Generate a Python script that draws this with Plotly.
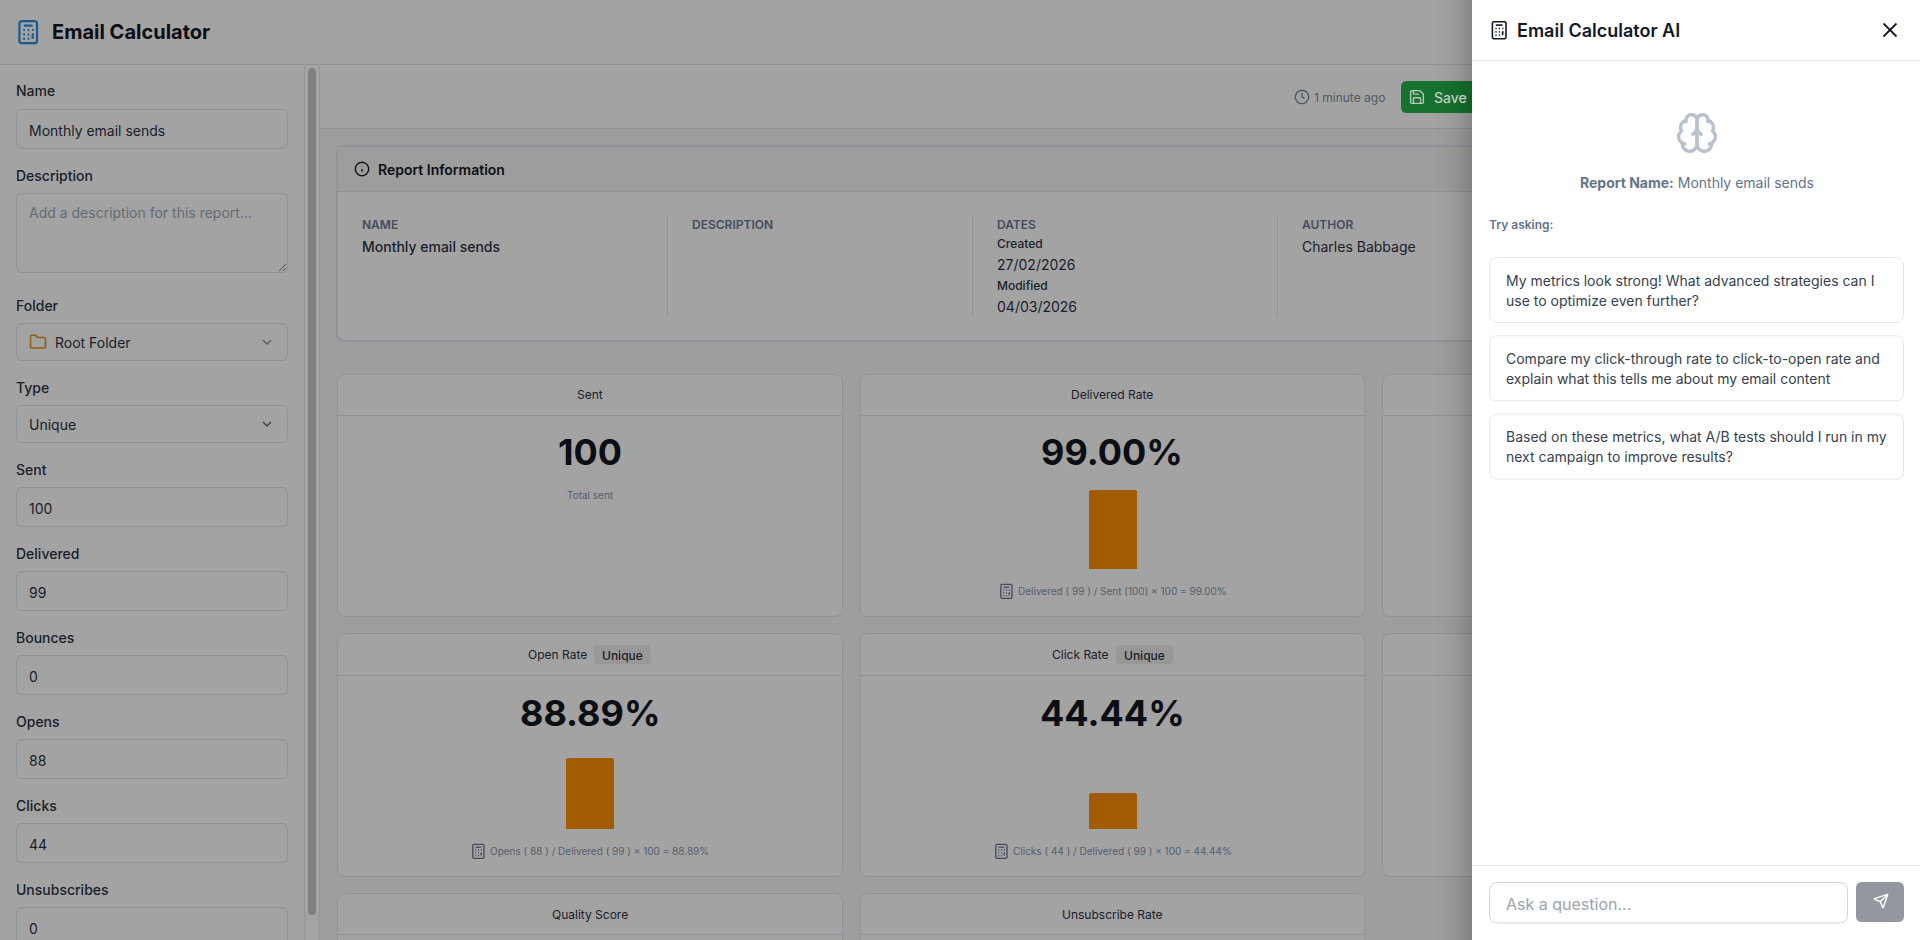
import math
import re
import plotly.graph_objects as go

# values
metric_names = ['Delivered Rate', 'Open Rate', 'Click Rate']
metric_values = [99.00, 88.89, 44.44]
metric_formulas = ['Delivered ( 99 ) / Sent (100) × 100 = 99.00%',
                   'Opens ( 88 ) / Delivered ( 99 ) × 100 = 88.89%',
                   'Clicks ( 44 ) / Delivered ( 99 ) × 100 = 44.44%']
sent_value = '100'

field_names = ['Sent', 'Delivered', 'Bounces', 'Opens', 'Clicks', 'Unsubscribes']
field_values = ['100', '99', '0', '88', '44', '0']

suggestions = [['My metrics look strong! What advanced strategies can I', 'use to optimize even further?'],
               ['Compare my click-through rate to click-to-open rate and', 'explain what this tells me about my email content'],
               ['Based on these metrics, what A/B tests should I run in my', 'next campaign to improve results?']]

FONT = 'Inter'
DARK = '#0b0e13'
LABEL = '#1a2029'
MUTED = '#565e6c'
LINE = '#8e9299'
BG = '#a3a3a3'
MAIN_BG = '#9e9e9e'

CALC = ['M6 2h12a2 2 0 0 1 2 2v16a2 2 0 0 1-2 2H6a2 2 0 0 1-2-2V4a2 2 0 0 1 2-2Z', 'M8 6h8',
        'M7.5 10h1.5', 'M11.5 10h1.5', 'M15.5 10h1.5', 'M7.5 14h1.5', 'M11.5 14h1.5', 'M15.5 14h1.5',
        'M7.5 18h1.5', 'M11.5 18h1.5', 'M16 14v4']
INFO = ['M22 12a10 10 0 1 1-20 0a10 10 0 1 1 20 0Z', 'M12 16v-4', 'M11.5 8h1']
CLOCK = ['M22 12a10 10 0 1 1-20 0a10 10 0 1 1 20 0Z', 'M12 6v6l4 2']
SAVE = ['M15.2 3a2 2 0 0 1 1.4.6l3.8 3.8a2 2 0 0 1 .6 1.4V19a2 2 0 0 1-2 2H5a2 2 0 0 1-2-2V5a2 2 0 0 1 2-2z',
        'M17 21v-7a1 1 0 0 0-1-1H8a1 1 0 0 0-1 1v7', 'M7 3v4a1 1 0 0 0 1 1h7']
FOLDER = ['M20 20a2 2 0 0 0 2-2V8a2 2 0 0 0-2-2h-7.9a2 2 0 0 1-1.69-.9L9.6 3.9A2 2 0 0 0 7.93 3H4a2 2 0 0 0-2 2v13a2 2 0 0 0 2 2Z']
CHEVRON = ['M6 9l6 6l6-6']
CLOSE = ['M18 6L6 18', 'M6 6l12 12']
SEND = ['M14.536 21.686a.5.5 0 0 0 .937-.024l6.5-19a.496.496 0 0 0-.635-.635l-19 6.5a.5.5 0 0 0-.024.937l7.93 3.18a2 2 0 0 1 1.112 1.11z',
        'M21.854 2.147l-10.94 10.939']
BRAIN = ['M12 5a3 3 0 1 0-5.997.125 4 4 0 0 0-2.526 5.77 4 4 0 0 0 .556 6.588A4 4 0 1 0 12 18Z',
         'M12 5a3 3 0 1 1 5.997.125 4 4 0 0 1 2.526 5.77 4 4 0 0 1-.556 6.588A4 4 0 1 1 12 18Z',
         'M15 13a4.5 4.5 0 0 1-3-4 4.5 4.5 0 0 1-3 4', 'M17.599 6.5a3 3 0 0 0 .399-1.375',
         'M6.003 5.125A3 3 0 0 0 6.401 6.5', 'M3.477 10.896a4 4 0 0 1 .585-.396',
         'M19.938 10.5a4 4 0 0 1 .585.396', 'M6 18a4 4 0 0 1-1.967-.516', 'M19.967 17.484A4 4 0 0 1 18 18']

shapes = []
notes = []


def arc_points(x0, y0, rx, ry, large, sweep, x1, y1):
    # plotly paths have no A command, so arcs become short lines
    dx, dy = (x0 - x1) / 2, (y0 - y1) / 2
    lam = dx * dx / (rx * rx) + dy * dy / (ry * ry)
    if lam > 1:
        rx, ry = rx * math.sqrt(lam), ry * math.sqrt(lam)
    den = rx * rx * dy * dy + ry * ry * dx * dx
    co = math.sqrt(max(0, (rx * rx * ry * ry - den) / den))
    if large == sweep:
        co = -co
    cxp, cyp = co * rx * dy / ry, -co * ry * dx / rx
    cx, cy = cxp + (x0 + x1) / 2, cyp + (y0 + y1) / 2
    t0 = math.atan2((dy - cyp) / ry, (dx - cxp) / rx)
    t1 = math.atan2((-dy - cyp) / ry, (-dx - cxp) / rx)
    d = t1 - t0
    if sweep and d < 0:
        d += 2 * math.pi
    if not sweep and d > 0:
        d -= 2 * math.pi
    return [(cx + rx * math.cos(t0 + d * k / 10), cy + ry * math.sin(t0 + d * k / 10)) for k in range(1, 11)]


def icon_path(d, left, top, scale):
    tokens = re.findall(r'[a-zA-Z]|-?\d*\.?\d+', d)
    out = []
    i = 0
    x = y = sx = sy = 0
    cmd = ''

    def put(letter, px, py):
        out.append(f'{letter}{left + px * scale:.2f},{top + py * scale:.2f}')

    while i < len(tokens):
        if tokens[i].isalpha():
            cmd = tokens[i]
            i += 1
            if cmd in 'Zz':
                out.append('Z')
                x, y = sx, sy
                continue
        rel = cmd.islower()
        op = cmd.upper()
        if op in 'ML':
            nx, ny = float(tokens[i]), float(tokens[i + 1])
            i += 2
            x, y = (x + nx, y + ny) if rel else (nx, ny)
            put(op, x, y)
            if op == 'M':
                sx, sy = x, y
                cmd = 'l' if rel else 'L'
        elif op == 'H':
            x = x + float(tokens[i]) if rel else float(tokens[i])
            i += 1
            put('L', x, y)
        elif op == 'V':
            y = y + float(tokens[i]) if rel else float(tokens[i])
            i += 1
            put('L', x, y)
        elif op == 'A':
            rx, ry = float(tokens[i]), float(tokens[i + 1])
            large, sweep = int(tokens[i + 3]), int(tokens[i + 4])
            nx, ny = float(tokens[i + 5]), float(tokens[i + 6])
            i += 7
            if rel:
                nx, ny = x + nx, y + ny
            for px, py in arc_points(x, y, rx, ry, large, sweep, nx, ny):
                put('L', px, py)
            x, y = nx, ny
    return ' '.join(out)


def icon(paths, left, top, size, color, width=1.5):
    for d in paths:
        shapes.append(dict(type='path', xref='x', yref='y', path=icon_path(d, left, top, size / 24),
                           line=dict(color=color, width=width), layer='below'))


def rrect(x0, y0, x1, y1, r, fill, line=None, width=1):
    path = (f'M{x0 + r},{y0} L{x1 - r},{y0} Q{x1},{y0} {x1},{y0 + r} L{x1},{y1 - r} Q{x1},{y1} {x1 - r},{y1} '
            f'L{x0 + r},{y1} Q{x0},{y1} {x0},{y1 - r} L{x0},{y0 + r} Q{x0},{y0} {x0 + r},{y0} Z')
    shapes.append(dict(type='path', xref='x', yref='y', path=path, fillcolor=fill,
                       line=dict(color=line or fill, width=width if line else 0), layer='below'))


def rect(x0, y0, x1, y1, fill, opacity=1):
    shapes.append(dict(type='rect', xref='x', yref='y', x0=x0, y0=y0, x1=x1, y1=y1, fillcolor=fill,
                       opacity=opacity, line=dict(width=0), layer='below'))


def hline(x0, x1, y, color=LINE, width=1):
    shapes.append(dict(type='line', xref='x', yref='y', x0=x0, x1=x1, y0=y, y1=y,
                       line=dict(color=color, width=width), layer='below'))


def vline(x, y0, y1, color=LINE, width=1):
    shapes.append(dict(type='line', xref='x', yref='y', x0=x, x1=x, y0=y0, y1=y1,
                       line=dict(color=color, width=width), layer='below'))


def label(x, y, text, size=14, color=LABEL, weight=400, anchor='left'):
    notes.append(dict(x=x, y=y, xref='x', yref='y', text=text, showarrow=False, xanchor=anchor, yanchor='middle',
                      borderpad=0, borderwidth=0,
                      font=dict(family=FONT, size=size, color=color, weight=weight)))


def field(name, value, y_label, y0, y1=None, placeholder=False):
    label(16, y_label, name, 14, LABEL, 500)
    y1 = y1 or y0 + 40
    rrect(16.5, y0 + .5, 287.5, y1 - .5, 6, BG, LINE)
    if value:
        label(29, y0 + 21 if not placeholder else y0 + 19, value, 14, '#646a74' if placeholder else '#1a2029')


# page background
rect(0, 0, 1920, 940, BG)
rect(320, 129, 1920, 940, MAIN_BG)
hline(0, 1920, 64.5)
hline(320, 1920, 128.5)
vline(304.5, 65, 940, '#94979c')
vline(319.5, 65, 940, '#94979c')
rrect(308, 68, 316, 915, 4, '#808080')

# header
icon(CALC, 15, 19, 26.4, '#1a5a8f', 2.2)
label(52, 32, 'Email Calculator', 20, DARK, 700)

# sidebar form
field('Name', 'Monthly email sends', 90.5, 109)
field('Description', 'Add a description for this report...', 175, 193, 273, True)
shapes.append(dict(type='line', xref='x', yref='y', x0=279, x1=286, y0=271, y1=264, line=dict(color='#4a4f57', width=1), layer='below'))
shapes.append(dict(type='line', xref='x', yref='y', x0=283, x1=286, y0=271, y1=268, line=dict(color='#4a4f57', width=1), layer='below'))
label(16, 305, 'Folder', 14, LABEL, 500)
rrect(16.5, 323.5, 287.5, 360.5, 6, BG, LINE)
icon(FOLDER, 29, 333, 18, '#8f6213', 1.6)
label(55, 342, 'Root Folder', 14, '#1a2029')
icon(CHEVRON, 259, 334, 16, '#555b65', 1.4)
label(16, 387, 'Type', 14, LABEL, 500)
rrect(16.5, 405.5, 287.5, 442.5, 6, BG, LINE)
label(29, 424, 'Unique', 14, '#1a2029')
icon(CHEVRON, 259, 416, 16, '#3c424b', 1.4)
for k in range(len(field_names)):
    field(field_names[k], field_values[k], 469 + k * 84, 487 + k * 84)

# toolbar
icon(CLOCK, 1294, 89, 16, '#4b5563', 1.3)
label(1314, 97, '1 minute ago', 12, '#515966')
rrect(1401, 81, 1490, 113, 6, '#17712f')
icon(SAVE, 1408.5, 88.5, 17, '#b9c6bc', 1.4)
label(1434, 97, 'Save', 14, '#c3cdc5', 500)

# report information card
rrect(337, 146, 1500, 341, 8, BG, '#8f939b', 2)
rect(338, 147, 1500, 191, '#9d9d9d')
hline(337, 1500, 191.5)
icon(INFO, 354, 161, 16, '#0f141b', 1.4)
label(378, 169, 'Report Information', 14, DARK, 600)
vline(667.5, 216, 316, '#8f9298')
vline(972.5, 216, 316, '#8f9298')
vline(1277.5, 216, 316, '#8f9298')
for x, text in [(362, 'NAME'), (692, 'DESCRIPTION'), (997, 'DATES'), (1302, 'AUTHOR')]:
    label(x, 224, text, 12, '#444d5d', 600)
label(362, 246, 'Monthly email sends', 14, LABEL, 500)
label(997, 243.5, 'Created', 12, LABEL, 500)
label(997, 264, '27/02/2026', 14, '#1a2029')
label(997, 285, 'Modified', 12, LABEL, 500)
label(997, 306, '04/03/2026', 14, '#1a2029')
label(1302, 246, 'Charles Babbage', 14, '#1a2029')

# metric cards
for x0, x1 in [(337, 843), (859.5, 1365.5), (1382, 1887)]:
    rrect(x0 + .5, 374.5, x1 - .5, 616.5, 8, BG, LINE)
    hline(x0, x1, 415.5)
    rrect(x0 + .5, 633.5, x1 - .5, 876.5, 8, BG, LINE)
    hline(x0, x1, 675.5)
for x0, x1 in [(337, 843), (859.5, 1365.5)]:
    rrect(x0 + .5, 893.5, x1 - .5, 990, 8, BG, LINE)
    hline(x0, x1, 934.5)

label(590, 394.5, 'Sent', 12, LABEL, 400, 'center')
label(590, 452, sent_value, 36, DARK, 700, 'center')
label(590, 495, 'Total sent', 10, MUTED, 400, 'center')

label(1112, 394.5, metric_names[0], 12, LABEL, 400, 'center')
label(1112, 452, f'{metric_values[0]:.2f}%', 36, DARK, 700, 'center')
icon(CALC, 998, 583, 16.8, '#434c5a', 1.3)
label(1017.5, 591, metric_formulas[0], 10, MUTED)

label(528, 654, metric_names[1], 12, LABEL)
rrect(594, 645, 651, 664, 4, '#989898')
label(622.5, 655, 'Unique', 12, LABEL, 500, 'center')
label(590, 713, f'{metric_values[1]:.2f}%', 36, DARK, 700, 'center')
icon(CALC, 470, 843, 16.8, '#434c5a', 1.3)
label(490, 851, metric_formulas[1], 10, MUTED)

label(1052, 654, metric_names[2], 12, LABEL)
rrect(1116, 645, 1173, 664, 4, '#989898')
label(1144.5, 655, 'Unique', 12, LABEL, 500, 'center')
label(1112, 713, f'{metric_values[2]:.2f}%', 36, DARK, 700, 'center')
icon(CALC, 993, 843, 16.8, '#434c5a', 1.3)
label(1013, 851, metric_formulas[2], 10, MUTED)

label(590, 914, 'Quality Score', 12, LABEL, 400, 'center')
label(1112, 914, 'Unsubscribe Rate', 12, LABEL, 400, 'center')

# shadow of the side panel on the page
for i in range(40):
    rect(1432 + i, 0, 1433 + i, 940, '#000000', ((i + 1) / 40) ** 2 * 0.17)

# side panel
rect(1472, 0, 1920, 940, '#ffffff')
hline(1472, 1920, 60.5, '#e5e7eb')
icon(CALC, 1489, 20, 20.4, '#111827', 1.6)
label(1517, 30, 'Email Calculator AI', 18, '#111827', 600)
icon(CLOSE, 1877, 17, 26, '#111827', 1.8)
icon(BRAIN, 1675, 111, 44, '#b9c1cd', 3.4)
label(1696.5, 182, '<b>Report Name:</b> Monthly email sends', 14, '#64748b', 400, 'center')
label(1489, 224, 'Try asking:', 12, '#64748b', 600)
for k in range(len(suggestions)):
    top = 257.5 + k * 78.25
    rrect(1489.5, top, 1903.5, top + 65, 8, '#ffffff', '#e5e7eb')
    label(1506, top + 22.5, suggestions[k][0], 14, '#374151')
    label(1506, top + 42.5, suggestions[k][1], 14, '#374151')
hline(1472, 1920, 865.5, '#e5e7eb')
rrect(1489.5, 882.5, 1847.5, 923, 8, '#ffffff', '#d1d5db')
label(1506, 904, 'Ask a question...', 16, '#9ca3af')
rrect(1856, 882, 1904, 922, 6, '#94979f')
icon(SEND, 1873, 893, 16, '#ffffff', 1.4)

fig = go.Figure()
# full page axis in pixels, only used to place the frame of the page
fig.add_trace(go.Scatter(x=[0], y=[0], mode='markers', marker=dict(opacity=0), hoverinfo='skip', showlegend=False))

bar_axes = [('x2', 'y2', 1089, 1137, 489, 569), ('x3', 'y3', 566, 614, 749, 829), ('x4', 'y4', 1089, 1137, 749, 829)]
layout_axes = {}
for k in range(len(metric_names)):
    xa, ya, left, right, top, bottom = bar_axes[k]
    fig.add_trace(go.Bar(x=[metric_names[k]], y=[metric_values[k]], xaxis=xa, yaxis=ya, showlegend=False,
                         marker=dict(color='#a35b00', line=dict(width=0), cornerradius=3)))
    layout_axes['xaxis' + xa[1:]] = dict(domain=[left / 1920, right / 1920], anchor=ya, visible=False, fixedrange=True)
    layout_axes['yaxis' + ya[1:]] = dict(domain=[1 - bottom / 940, 1 - top / 940], anchor=xa, range=[0, 100],
                                         visible=False, fixedrange=True)

fig.update_layout(
    width=1920, height=940, margin=dict(l=0, r=0, t=0, b=0, pad=0),
    paper_bgcolor=BG, plot_bgcolor='rgba(0,0,0,0)', bargap=0, showlegend=False,
    xaxis=dict(range=[0, 1920], visible=False, fixedrange=True),
    yaxis=dict(range=[940, 0], visible=False, fixedrange=True),
    shapes=shapes, annotations=notes,
    **layout_axes
)

fig.write_html("out.html", config=dict(displayModeBar=False),
               post_script="document.body.style.margin='0';document.body.style.overflow='hidden';")
